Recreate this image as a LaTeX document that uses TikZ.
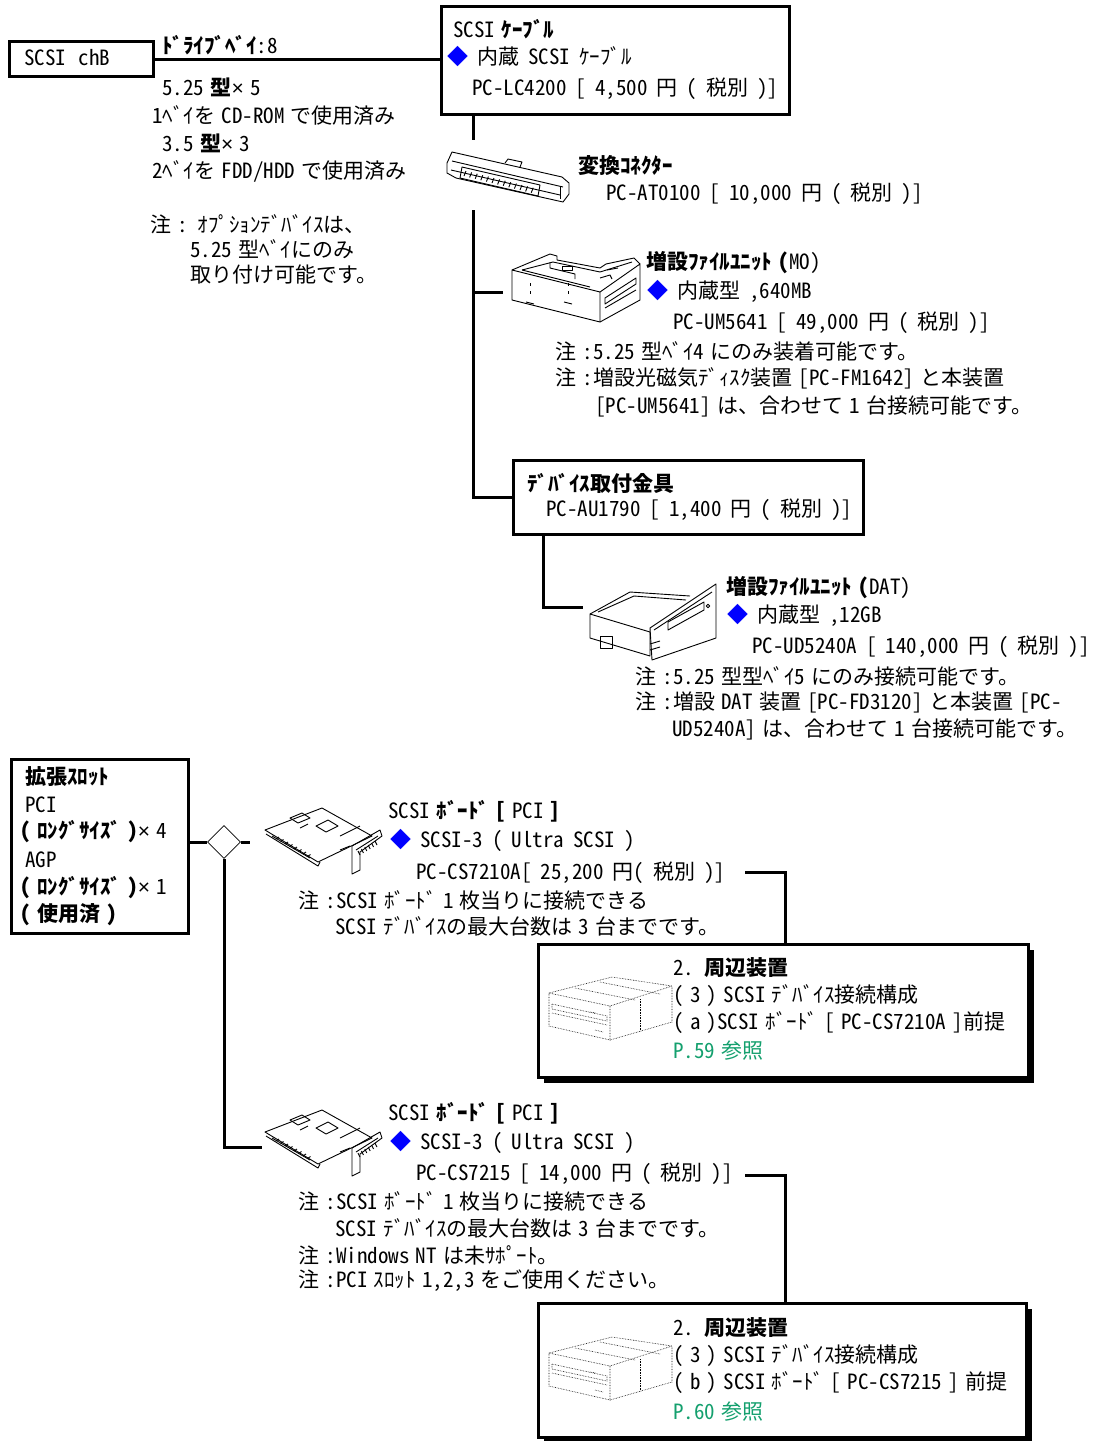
\documentclass[tikz,border=0pt]{standalone}
\usepackage{fontspec}
\setmainfont{Noto Sans CJK JP}[RawFeature=+hwid, WordSpace=0.6]
\newfontfamily\timesfont{Liberation Sans}
\usetikzlibrary{shapes.geometric}
\definecolor{refgreen}{RGB}{20,160,110}
\tikzset{
  box/.style={draw, line width=3pt, fill=white, inner sep=0, anchor=north west},
  conn/.style={line width=3pt},
  txt/.style={anchor=west, inner sep=0, font=\fontsize{21}{23}\selectfont},
  widesp/.style={execute at begin node={\spaceskip=9pt\relax}},
  img/.style={line width=0.9pt, line join=round},
  imgd/.style={line width=0.6pt, densely dotted},
}
\newcommand{\dia}{\textcolor{blue}{◆}}
\newcommand{\tms}{{\timesfont ×}}
\begin{document}
\begin{tikzpicture}[x=1pt,y=-1pt]
\useasboundingbox (0,0) rectangle (1095,1441);

% ---------- top part ----------
\node[box, minimum width=144, minimum height=35] (chb) at (8,40) {};
\node[txt] (chbt) at (24,58) {SCSI\hspace{0.6em}chB};

\node[box, minimum width=348, minimum height=108] (cable) at (440,5) {};
\node[txt] (cab1) at (453,29) {SCSI \textbf{ｹｰﾌﾞﾙ}};
\node[txt, widesp] (cab2) at (447,57) {\dia\ 内蔵 SCSI ｹｰﾌﾞﾙ};
\node[txt, widesp] (cab3) at (472,89) {PC-LC4200 [ 4,500 円 ( 税別 )]};

\draw[conn] (chb.east) -- (chb.east -| cable.west);

\node[txt] (bay0) at (162,45) {\textbf{ﾄﾞﾗｲﾌﾞﾍﾞｲ}:8};
\node[txt] (bay1) at (162,87) {5.25 \textbf{型}\tms\ 5};
\node[txt] (bay2) at (152,115) {1ﾍﾞｲを CD-ROM で使用済み};
\node[txt] (bay3) at (162,143) {3.5 \textbf{型}\tms\ 3};
\node[txt] (bay4) at (152,171) {2ﾍﾞｲを FDD/HDD で使用済み};
\node[txt] (bay5) at (150,224) {注 : ｵﾌﾟｼｮﾝﾃﾞﾊﾞｲｽは、};
\node[txt] (bay6) at (190,249) {5.25 型ﾍﾞｲにのみ};
\node[txt] (bay7) at (190,275) {取り付け可能です。};

% converter image
\coordinate (convtop) at (473,140);
\coordinate (convbot) at (473,210);
\draw[conn] (cable.south -| convtop) -- (convtop);
\begin{scope}[img]
  \draw (447,163) -- (452,152) -- (562,177) -- (569,183) -- (569,194) -- (563,202) -- (456,178) -- (447,173) -- cycle;
  \draw (452,161) -- (563,187);
  \draw (451,170) -- (560,195);
  \draw (462,167) -- (540,185) -- (538,196) -- (460,178) -- cycle;
  \foreach \i in {0,...,12} \draw (466+5.6*\i,171+1.4*\i) -- (464+5.6*\i,176+1.4*\i);
  \draw (505,163) -- (508,159) -- (522,162) -- (520,167);
  \draw (560,186) -- (560,199);
\end{scope}
\node[txt] (conv1) at (578,166) {\textbf{変換ｺﾈｸﾀｰ}};
\node[txt, widesp] (conv2) at (606,194) {PC-AT0100 [ 10,000 円 ( 税別 )]};

% trunk
\node[box, minimum width=350, minimum height=74] (bracket) at (512,459) {};
\coordinate (mobr) at (473,292);
\coordinate (moimg) at (503,292);
\draw[conn] (convbot) -- (convbot |- bracket.west) -- (bracket.west);
\draw[conn] (mobr) -- (moimg);

% MO image
\begin{scope}[img]
  \draw (512,270) -- (600,292) -- (600,322) -- (512,300) -- cycle;
  \draw (600,292) -- (640,264) -- (640,300) -- (600,322);
  \draw (512,270) -- (550,254) -- (557,256) -- (557,260) -- (600,268) -- (606,264) -- (634,258) -- (640,264);
  \draw (522,270) -- (553,262) -- (600,272) -- (632,262);
  \draw (522,270) -- (590,287);
  \draw (550,262) -- (550,268) -- (575,274) -- (575,279);
  \draw (562,266) rectangle (572,270);
  \draw (600,278) -- (610,275) -- (612,279);
  \draw (607,270) -- (618,268);
  \draw (605,298) -- (636,278) -- (636,284) -- (605,304) -- cycle;
  \draw (605,308) -- (636,290);
  \foreach \x in {530,568} {\draw (\x,283) -- (\x,286); \draw (\x,291) -- (\x,294); \draw (\x-4,302) -- (\x+4,304);}
\end{scope}
\node[txt] (mo1) at (646,263) {\textbf{増設ﾌｧｲﾙﾕﾆｯﾄ (}MO)};
\node[txt, widesp] (mo2) at (647,291) {\dia\ 内蔵型 ,640MB};
\node[txt, widesp] (mo3) at (673,323) {PC-UM5641 [ 49,000 円 ( 税別 )]};
\node[txt] (mo4) at (555,351) {注 :5.25 型ﾍﾞｲ4 にのみ装着可能です。};
\node[txt] (mo5) at (555,378) {注 :増設光磁気ﾃﾞｨｽｸ装置 [PC-FM1642] と本装置};
\node[txt] (mo6) at (595,406) {[PC-UM5641] は、合わせて 1 台接続可能です。};

\node[txt] (br1) at (527,483) {\textbf{ﾃﾞﾊﾞｲｽ取付金具}};
\node[txt, widesp] (br2) at (546,510) {PC-AU1790 [ 1,400 円 ( 税別 )]};

% DAT
\coordinate (datimg) at (583,607);
\draw[conn] (bracket.south west) ++(31,0) coordinate (brdown) -- (brdown |- datimg) -- (datimg);
\begin{scope}[img]
  \draw (590,614) -- (650,632) -- (650,656) -- (590,638) -- cycle;
  \draw (590,614) -- (630,592) -- (690,596);
  \draw (598,612) -- (634,596) -- (686,600);
  \draw (600,636) rectangle (612,648);
  \draw (650,644) -- (660,641);
  \draw (650,650) -- (660,647);
  \draw (650,628) -- (716,584) -- (716,638) -- (652,660) -- cycle;
  \draw (654,630) -- (712,592);
  \draw (668,622) -- (704,602) -- (704,610) -- (668,630) -- cycle;
  \draw (708,606) circle (1.8);
\end{scope}
\node[txt] (dat1) at (726,588) {\textbf{増設ﾌｧｲﾙﾕﾆｯﾄ (}DAT)};
\node[txt, widesp] (dat2) at (727,615) {\dia\ 内蔵型 ,12GB};
\node[txt, widesp] (dat3) at (752,647) {PC-UD5240A [ 140,000 円 ( 税別 )]};
\node[txt] (dat4) at (635,676) {注 :5.25 型型ﾍﾞｲ5 にのみ接続可能です。};
\node[txt] (dat5) at (635,702) {注 :増設 DAT 装置 [PC-FD3120] と本装置 [PC-};
\node[txt] (dat6) at (672,729) {UD5240A] は、合わせて 1 台接続可能です。};

% ---------- bottom part ----------
\node[box, minimum width=177, minimum height=174] (slot) at (10,758) {};
\node[txt] (sl1) at (25,777) {\textbf{拡張ｽﾛｯﾄ}};
\node[txt] (sl2) at (25,805) {PCI};
\node[txt] (sl3) at (20,832) {\textbf{( ﾛﾝｸﾞｻｲｽﾞ )}\tms\ 4};
\node[txt] (sl4) at (25,860) {AGP};
\node[txt] (sl5) at (20,888) {\textbf{( ﾛﾝｸﾞｻｲｽﾞ )}\tms\ 1};
\node[txt] (sl6) at (20,915) {\textbf{( 使用済 )}};

\node[draw, diamond, line width=0.8pt, minimum width=33, minimum height=33, inner sep=0] (dm) at (224,842) {};
\coordinate (board1) at (250,842);
\coordinate (board2) at (262,1147);
\draw[conn] (slot.east |- dm) -- (dm.west);
\draw[conn] (dm.east) -- (board1);
\draw[conn] (dm.south) -- (dm.south |- board2) -- (board2);

% board images
\foreach \dy in {0,302} {
\begin{scope}[img, yshift=-\dy]
  \draw (265,830) -- (322,808) -- (372,836) -- (318,862) -- cycle;
  \draw (266,834) -- (318,866) -- (320,862);
  \draw (272,836) -- (310,858);
  \foreach \i in {0,...,7} \draw (276+4.5*\i,839+2.5*\i) -- (279+4.5*\i,837+2.5*\i);
  \draw (316,826) -- (328,820) -- (338,826) -- (326,832) -- cycle;
  \draw (290,818) -- (302,813) -- (310,818) -- (298,823) -- cycle;
  \draw (300,828) -- (308,824);
  \draw (340,836) -- (360,826);
  \draw (352,846) -- (380,830) -- (382,836) -- (360,852) -- (360,870) -- (352,874) -- cycle;
  \draw (356,850) -- (378,836);
  \foreach \i in {0,...,5} \draw (358+3.4*\i,851-2*\i) -- (360+3.4*\i,855-2*\i);
  \draw (340,850) -- (350,846);
\end{scope}
}

\node[txt] (b1t1) at (388,811) {SCSI \textbf{ﾎﾞｰﾄﾞ [} PCI \textbf{]}};
\node[txt, widesp] (b1t2) at (390,840) {\dia\ SCSI-3 ( Ultra SCSI )};
\node[txt, widesp] (b1t3) at (416,873) {PC-CS7210A[ 25,200 円( 税別 )]};
\node[txt] (b1t4) at (298,900) {注 :SCSI ﾎﾞｰﾄﾞ 1 枚当りに接続できる};
\node[txt] (b1t5) at (335,926) {SCSI ﾃﾞﾊﾞｲｽの最大台数は 3 台までです。};

\node[txt] (b2t1) at (388,1113) {SCSI \textbf{ﾎﾞｰﾄﾞ [} PCI \textbf{]}};
\node[txt, widesp] (b2t2) at (390,1142) {\dia\ SCSI-3 ( Ultra SCSI )};
\node[txt, widesp] (b2t3) at (416,1174) {PC-CS7215 [ 14,000 円 ( 税別 )]};
\node[txt] (b2t4) at (298,1201) {注 :SCSI ﾎﾞｰﾄﾞ 1 枚当りに接続できる};
\node[txt] (b2t5) at (335,1228) {SCSI ﾃﾞﾊﾞｲｽの最大台数は 3 台までです。};
\node[txt] (b2t6) at (298,1255) {注 :Windows NT は未ｻﾎﾟｰﾄ。};
\node[txt] (b2t7) at (298,1281) {注 :PCI ｽﾛｯﾄ 1,2,3 をご使用ください。};

% reference boxes
\fill (544,950) rectangle (1034,1083);
\node[box, minimum width=490, minimum height=133] (ref1) at (537,943) {};
\fill (544,1309) rectangle (1032,1443);
\node[box, minimum width=488, minimum height=134] (ref2) at (537,1302) {};

\coordinate (r1a) at (745,872);
\coordinate (r1b) at (785,872);
\draw[conn] (r1a) -- (r1b) -- (r1b |- ref1.north);
\coordinate (r2a) at (745,1175);
\coordinate (r2b) at (785,1175);
\draw[conn] (r2a) -- (r2b) -- (r2b |- ref2.north);

% drive images
\foreach \dy in {0,360} {
\begin{scope}[imgd, yshift=-\dy]
  \draw (549,993) -- (610,1006) -- (610,1040) -- (549,1026) -- cycle;
  \draw (549,993) -- (612,977) -- (672,986) -- (610,1006);
  \draw (610,1040) -- (672,1022) -- (672,986);
  \draw (552,1004) -- (607,1016) -- (607,1021) -- (552,1009) -- cycle;
  \draw (552,1013) -- (607,1025);
  \draw (595,1030) -- (603,1032);
  \draw (590,1012) -- (596,1013);
  \draw (575,988) -- (635,1000);
  \draw (600,982) -- (660,994);
  \draw (640,999) -- (640,1031);
\end{scope}
}

\node[txt] (r1t1) at (673,968) {2. \textbf{周辺装置}};
\node[txt] (r1t2) at (673,996) {( 3 ) SCSI ﾃﾞﾊﾞｲｽ接続構成};
\node[txt] (r1t3) at (673,1023) {( a )SCSI ﾎﾞｰﾄﾞ [ PC-CS7210A ]前提};
\node[txt, text=refgreen] (r1t4) at (673,1051) {P.59 参照};

\node[txt] (r2t1) at (673,1328) {2. \textbf{周辺装置}};
\node[txt] (r2t2) at (673,1356) {( 3 ) SCSI ﾃﾞﾊﾞｲｽ接続構成};
\node[txt] (r2t3) at (673,1383) {( b ) SCSI ﾎﾞｰﾄﾞ [ PC-CS7215 ] 前提};
\node[txt, text=refgreen] (r2t4) at (673,1412) {P.60 参照};
\end{tikzpicture}
\end{document}
